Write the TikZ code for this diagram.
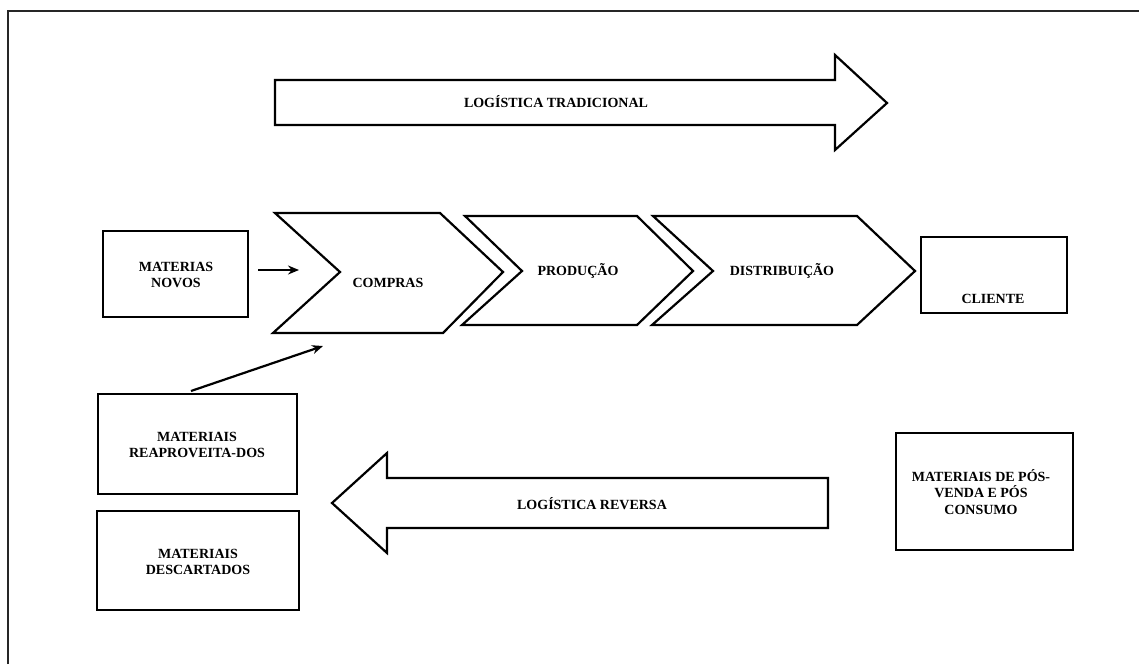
\documentclass[tikz,border=0pt]{standalone}
\usepackage{fontspec}
\setmainfont{Liberation Serif}
\usetikzlibrary{arrows.meta}
\tikzset{
  shp/.style={draw=black, line width=2.2pt, line join=miter, fill=white},
  box/.style={draw=black, line width=2.2pt, fill=white, inner sep=0pt},
  lbl/.style={font=\fontsize{14}{16.5}\selectfont\bfseries, align=center, inner sep=0pt},
  con/.style={line width=2.2pt, -{Stealth[length=11pt,width=9pt]}},
  frm/.style={line width=1.5pt, draw=black!85}
}
\begin{document}
\begin{tikzpicture}[x=1pt,y=-1pt]
\useasboundingbox (0,0) rectangle (1139,664);
% frame (only top and left edges visible)
\draw[frm] (8,664) -- (8,11) -- (1139,11);

% top big arrow
\draw[shp] (275,80) -- (835,80) -- (835,55) -- (887,103) -- (835,150) -- (835,125) -- (275,125) -- cycle;
\node[lbl] (trad) at (556,102) {LOGÍSTICA TRADICIONAL};

% chevrons
\draw[shp] (275,213) -- (440,213) -- (503,272) -- (443,333) -- (273,333) -- (340,272) -- cycle;
\node[lbl] (compras) at (388,283) {COMPRAS};
\draw[shp] (465,216) -- (637,216) -- (693,271) -- (637,325) -- (462,325) -- (522,271) -- cycle;
\node[lbl] (producao) at (578,271) {PRODUÇÃO};
\draw[shp] (653,216) -- (857,216) -- (915,271) -- (857,325) -- (652,325) -- (713,271) -- cycle;
\node[lbl] (distrib) at (782,271) {DISTRIBUIÇÃO};

% boxes
\node[box, minimum width=145pt, minimum height=86pt] (novos) at (175.5,274) {};
\node[lbl] (novost) at (176,275) {MATERIAS\\NOVOS};
\node[box, minimum width=146pt, minimum height=76pt] (cliente) at (994,275) {};
\node[lbl] (clientet) at (993,299) {CLIENTE};
\node[box, minimum width=199pt, minimum height=100pt] (rea) at (197.5,444) {};
\node[lbl] (reat) at (197,445) {MATERIAIS\\REAPROVEITA-DOS};
\node[box, minimum width=202pt, minimum height=99pt] (desc) at (198,560.5) {};
\node[lbl] (desct) at (198,562) {MATERIAIS\\DESCARTADOS};
\node[box, minimum width=177pt, minimum height=117pt] (pos) at (984.5,491.5) {};
\node[lbl] (post) at (981,492) {MATERIAIS DE PÓS-\\VENDA E PÓS\\CONSUMO};

% reverse big arrow
\draw[shp] (828,478) -- (387,478) -- (387,453) -- (332,503) -- (387,553) -- (387,528) -- (828,528) -- cycle;
\node[lbl] (rev) at (592,504) {LOGÍSTICA REVERSA};

% connectors
\coordinate (cin) at (299,270);
\coordinate (cin2) at (323,346);
\coordinate (rout) at (191,391);
\draw[con] ([xshift=9pt]novos.east |- cin) -- (cin);
\draw[con] (rout) -- (cin2);
\end{tikzpicture}
\end{document}
